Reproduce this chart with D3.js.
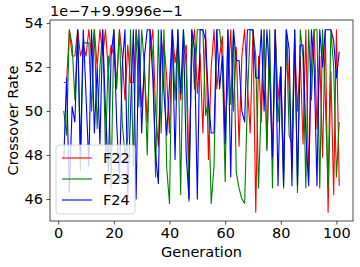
<!DOCTYPE html>
<html>
<head>
<meta charset="utf-8">
<script src="https://d3js.org/d3.v7.min.js"></script>
<style>
  body { margin: 0; background: #fff; }
  svg { font-family: "DejaVu Sans", sans-serif; }
</style>
</head>
<body>
<div id="chart"></div>
<script>
// Data (values shown as offset: value*1e-7 + 0.99996)
var generations = d3.range(2, 102);
var f22 = [51.3, 51.3, 53.7, 52.5, 52.5, 53.7, 52.5, 53.0, 52.5, 53.7,
           52.5, 53.7, 52.0, 53.7, 52.5, 53.7, 51.8, 53.0, 52.5, 51.3,
           53.7, 52.5, 50.5, 53.0, 51.3, 51.3, 53.7, 52.5, 50.2, 51.8,
           49.5, 52.7, 53.7, 50.0, 48.4, 52.5, 53.2, 51.5, 49.0, 53.7,
           52.2, 53.0, 50.5, 52.5, 53.0, 47.3, 52.5, 53.7, 50.8, 52.6,
           49.0, 53.7, 47.8, 52.0, 53.7, 51.0, 52.5, 53.4, 49.2, 51.3,
           53.7, 50.0, 52.9, 48.4, 52.5, 53.7, 51.2, 49.0, 53.7, 45.4,
           52.5, 49.5, 53.7, 48.3, 52.8, 47.8, 53.7, 50.5, 52.0, 47.2,
           53.7, 51.0, 47.5, 53.2, 50.0, 52.5, 48.5, 53.7, 46.8, 52.0,
           53.7, 49.2, 52.5, 47.9, 53.7, 45.4, 51.8, 46.2, 53.7, 46.6];
var f23 = [50.0, 48.9, 53.7, 53.0, 50.5, 53.7, 47.3, 53.1, 53.1, 53.1,
           50.0, 53.7, 49.2, 52.0, 53.7, 48.0, 52.5, 46.5, 53.7, 51.0,
           53.7, 49.5, 48.0, 48.8, 53.7, 47.5, 53.7, 50.2, 53.7, 52.0,
           48.0, 53.7, 52.5, 47.0, 53.7, 49.0, 53.7, 47.4, 45.8, 53.7,
           50.5, 53.7, 46.2, 53.7, 52.0, 45.9, 53.7, 51.0, 53.7, 53.7,
           53.7, 49.8, 50.5, 45.8, 47.5, 53.7, 53.7, 52.3, 46.8, 53.7,
           50.3, 53.7, 47.2, 46.5, 46.0, 45.8, 50.5, 53.7, 53.7, 52.5,
           46.5, 50.5, 53.7, 48.2, 53.7, 46.5, 53.7, 49.5, 52.0, 46.5,
           53.7, 48.9, 48.5, 53.7, 46.3, 53.7, 52.4, 46.5, 53.7, 50.5,
           53.7, 53.7, 46.5, 53.7, 50.5, 46.5, 53.7, 52.0, 47.0, 49.5];
var f24 = [47.8, 51.5, 46.3, 50.2, 49.5, 53.7, 48.0, 53.7, 50.7, 47.5,
           53.7, 49.0, 52.0, 48.5, 53.7, 50.0, 47.2, 52.5, 53.7, 49.5,
           46.8, 52.0, 53.7, 46.0, 50.0, 53.7, 46.0, 53.7, 49.0, 52.5,
           53.7, 53.7, 51.5, 48.0, 46.7, 53.7, 50.8, 48.9, 51.2, 53.7,
           47.8, 53.7, 50.8, 53.7, 48.0, 46.0, 53.7, 52.8, 46.0, 53.7,
           53.7, 53.2, 50.5, 49.0, 49.0, 53.7, 51.0, 52.5, 48.5, 53.7,
           47.0, 53.7, 52.3, 52.3, 50.0, 49.5, 53.7, 53.7, 53.7, 51.5,
           51.5, 53.7, 50.0, 53.7, 51.5, 47.9, 53.7, 46.6, 52.0, 46.6,
           53.7, 52.8, 46.6, 53.7, 46.6, 53.0, 53.0, 49.0, 46.6, 53.7,
           52.0, 46.6, 53.7, 52.0, 53.7, 53.7, 53.7, 53.2, 51.5, 52.7];
var seriesNames = ["F22", "F23", "F24"];
var seriesColors = ["#ff0000", "#008000", "#0000ff"];
var xTicks = [0, 20, 40, 60, 80, 100];
var yTicks = [46, 48, 50, 52, 54];

// Dimensions
var margin = {top: 20, right: 7, bottom: 46, left: 50};
var width = 360 - margin.left - margin.right;
var height = 267 - margin.top - margin.bottom;

var svg = d3.select("#chart")
    .append("svg")
    .attr("width", 360)
    .attr("height", 267);

var g = svg.append("g").attr("transform", "translate(" + margin.left + "," + margin.top + ")");

var x = d3.scaleLinear().domain([-2.95, 105.95]).range([0, width]);
var y = d3.scaleLinear().domain([45.0, 54.14]).range([height, 0]);

g.append("clipPath").attr("id", "clip")
    .append("rect").attr("width", width).attr("height", height);

// Lines
var allSeries = [f22, f23, f24];
var line = d3.line()
    .x(function(d, i) { return x(generations[i]); })
    .y(function(d) { return y(d); });

g.append("g").attr("clip-path", "url(#clip)")
    .selectAll("path")
    .data(allSeries)
    .enter()
    .append("path")
    .attr("d", line)
    .attr("fill", "none")
    .attr("stroke", function(d, i) { return seriesColors[i]; })
    .attr("stroke-width", 1.1)
    .attr("stroke-linejoin", "round");

// Axes
var xAxis = g.append("g")
    .attr("transform", "translate(0," + height + ")")
    .call(d3.axisBottom(x).tickValues(xTicks).tickSize(3.5).tickPadding(3.5));
var yAxis = g.append("g")
    .call(d3.axisLeft(y).tickValues(yTicks).tickSize(3.5).tickPadding(3.5));

[xAxis, yAxis].forEach(function(a) {
    a.select(".domain").remove();
    a.selectAll("line").attr("stroke", "#222").attr("stroke-width", 0.8);
    a.selectAll("text").attr("font-size", 14.5).attr("fill", "#000")
        .attr("font-family", "DejaVu Sans");
});

// Frame
g.append("rect")
    .attr("width", width).attr("height", height)
    .attr("fill", "none").attr("stroke", "#222").attr("stroke-width", 0.8);

// Offset text
g.append("text")
    .attr("x", 0).attr("y", -4)
    .attr("font-size", 14.5)
    .text("1e\u22127+9.9996e\u22121");

// Labels
svg.append("text")
    .attr("x", margin.left + width / 2).attr("y", 257)
    .attr("text-anchor", "middle").attr("font-size", 14.5)
    .text("Generation");

svg.append("text")
    .attr("transform", "translate(18," + (margin.top + height / 2) + ") rotate(-90)")
    .attr("text-anchor", "middle").attr("font-size", 14.5)
    .text("Crossover Rate");

// Legend
var legend = g.append("g").attr("transform", "translate(6,125)");
legend.append("rect")
    .attr("width", 79).attr("height", 69).attr("rx", 3)
    .attr("fill", "#fff").attr("fill-opacity", 0.8)
    .attr("stroke", "#ccc").attr("stroke-width", 0.8);

var items = legend.selectAll(".item")
    .data(seriesNames)
    .enter()
    .append("g")
    .attr("transform", function(d, i) { return "translate(0," + (13 + i * 21) + ")"; });

items.append("line")
    .attr("x1", 6).attr("x2", 36)
    .attr("stroke", function(d, i) { return seriesColors[i]; })
    .attr("stroke-width", 1.1);

items.append("text")
    .attr("x", 47).attr("y", 5)
    .attr("font-size", 14.5)
    .text(function(d) { return d; });
</script>
</body>
</html>
